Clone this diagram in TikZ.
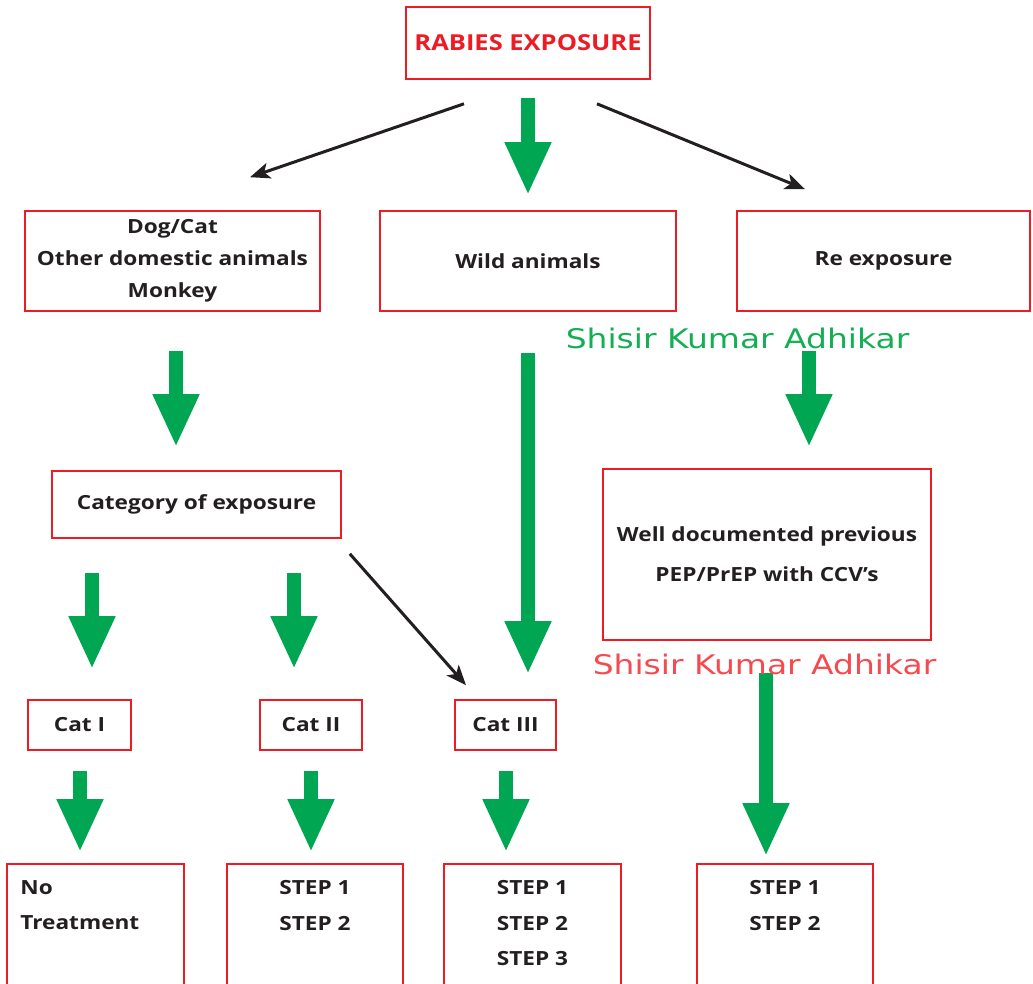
\documentclass[tikz,border=0pt]{standalone}
\usepackage{fontspec}
\setmainfont{Open Sans}[FakeStretch=1.16]
\newfontfamily\wmfont{DejaVu Sans}[FakeStretch=1.22]
\usetikzlibrary{arrows.meta}
\definecolor{rred}{RGB}{237,28,36}
\definecolor{ggreen}{RGB}{0,166,81}
\definecolor{tblack}{RGB}{35,31,32}
\definecolor{wmgreen}{RGB}{20,175,85}
\definecolor{wmred}{RGB}{245,75,80}
\begin{document}
\begin{tikzpicture}[x=1pt,y=-1pt,
  box/.style={draw=rred, line width=1.6pt, inner sep=0pt, align=center, text=tblack,
    font=\bfseries\fontsize{19.5}{32}\selectfont},
  txt/.style={inner sep=0pt, text=tblack, font=\bfseries\fontsize{19.5}{35.5}\selectfont},
  garrow/.style={color=ggreen, line width=13.5pt, -{Triangle[width=43pt,length=53pt]}},
  barrow/.style={color=tblack, line width=3pt, -{Stealth[length=20pt,width=16pt,inset=5pt]}},
  wm/.style={inner sep=0pt, font=\wmfont\fontsize{27}{30}\selectfont}
]
\clip (0,0) rectangle (1033,983);
% boxes
\node[box, minimum width=244pt, minimum height=72pt, text=rred,
  font=\bfseries\fontsize{22}{28}\selectfont] (top) at (528,43) {RABIES EXPOSURE};
\node[box, minimum width=295pt, minimum height=100pt] (dog) at (172.5,261) {Dog/Cat\\Other domestic animals\\Monkey};
\node[box, minimum width=296pt, minimum height=100pt] (wild) at (528,261) {Wild animals};
\node[box, minimum width=293pt, minimum height=100pt] (re) at (883.5,261) {Re exposure};
\node[box, minimum width=289pt, minimum height=67pt] (cat) at (196.5,504.5) {Category of exposure};
\node[box, minimum width=328pt, minimum height=171pt, font=\bfseries\fontsize{19.5}{40}\selectfont] (well) at (767,554.5) {Well documented previous\\PEP/PrEP with CCV's};
\node[box, minimum width=103pt, minimum height=50pt] (c1) at (79.5,725) {Cat I};
\node[box, minimum width=102pt, minimum height=50pt] (c2) at (311,725) {Cat II};
\node[box, minimum width=101pt, minimum height=50pt] (c3) at (505.5,725) {Cat III};
\node[box, minimum width=177pt, minimum height=140pt] (b1) at (95.5,934) {};
\node[box, minimum width=176pt, minimum height=140pt] (b2) at (315,934) {};
\node[box, minimum width=177pt, minimum height=140pt] (b3) at (532.5,934) {};
\node[box, minimum width=176pt, minimum height=140pt] (b4) at (785,934) {};
% box texts
\node[txt, anchor=north west, align=left] (t1) at ([xshift=14pt,yshift=-17pt]b1.north west) {No\\Treatment};
\node[txt, anchor=north, align=center] (t2) at ([yshift=-17pt]b2.north) {STEP 1\\STEP 2};
\node[txt, anchor=north, align=center] (t3) at ([yshift=-17pt]b3.north) {STEP 1\\STEP 2\\STEP 3};
\node[txt, anchor=north, align=center] (t4) at ([yshift=-17pt]b4.north) {STEP 1\\STEP 2};
% green block arrows
\draw[garrow] ([yshift=-18pt]top.south) -- ([yshift=15pt]wild.north);
\draw[garrow] ([xshift=3.5pt,yshift=-39pt]dog.south) -- ([xshift=-20.5pt,yshift=23pt]cat.north);
\draw[garrow] ([yshift=-41pt]wild.south) -- ([xshift=22.5pt,yshift=25pt]c3.north);
\draw[garrow] ([xshift=-74.5pt,yshift=-39pt]re.south) -- ([xshift=42pt,yshift=21pt]well.north);
\draw[garrow] ([xshift=-1pt,yshift=-32pt]well.south) -- ([xshift=-19pt,yshift=7pt]b4.north);
\draw[garrow] ([xshift=-104.5pt,yshift=-34pt]cat.south) -- ([xshift=12.5pt,yshift=30pt]c1.north);
\draw[garrow] ([xshift=97.5pt,yshift=-34pt]cat.south) -- ([xshift=-17pt,yshift=30pt]c2.north);
\draw[garrow] ([xshift=0.5pt,yshift=-20pt]c1.south) -- ([xshift=-15.5pt,yshift=11pt]b1.north);
\draw[garrow] ([yshift=-20pt]c2.south) -- ([xshift=-4pt,yshift=11pt]b2.north);
\draw[garrow] ([xshift=0.5pt,yshift=-20pt]c3.south) -- ([xshift=-26.5pt,yshift=11pt]b3.north);
% black arrows
\draw[barrow] ([xshift=-64pt,yshift=-24pt]top.south) -- ([xshift=77.5pt,yshift=33pt]dog.north);
\draw[barrow] ([xshift=69pt,yshift=-24pt]top.south) -- ([xshift=-78.5pt,yshift=21pt]re.north);
\draw[barrow] ([xshift=8pt,yshift=-15pt]cat.south east) -- ([xshift=-39.5pt,yshift=14pt]c3.north);
% watermarks
\node[wm, text=wmgreen] (wm1) at (737.5,338) {Shisir Kumar Adhikar};
\node[wm, text=wmred] (wm2) at (764.5,664) {Shisir Kumar Adhikar};
\end{tikzpicture}
\end{document}
